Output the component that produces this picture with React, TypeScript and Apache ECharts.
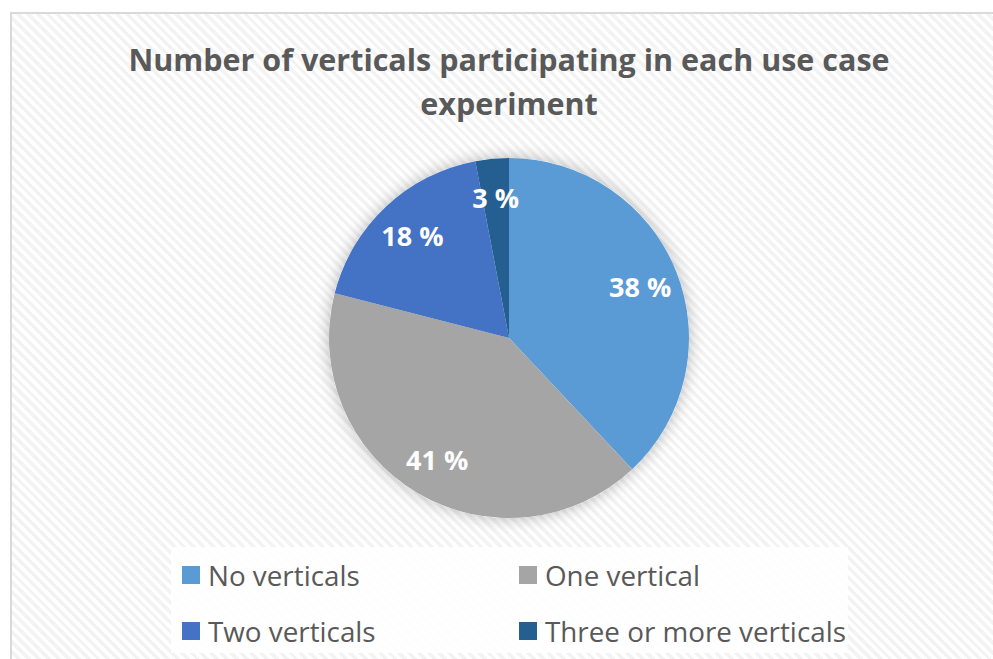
import React, { useEffect, useRef } from "react";
import * as echarts from "echarts";

const TITLE = "Number of verticals participating in each use case\nexperiment";
const CATEGORIES = ["No verticals", "One vertical", "Two verticals", "Three or more verticals"];
const VALUES = [38, 41, 18, 3];
const COLORS = ["#5B9BD5", "#A5A5A5", "#4472C4", "#255E91"];
const LEGEND_LEFT_COL = ["No verticals", "Two verticals"];
const LEGEND_RIGHT_COL = ["One vertical", "Three or more verticals"];

export default function App() {
  const ref = useRef<HTMLDivElement>(null);
  useEffect(() => {
    if (!ref.current) return;
    const chart = echarts.init(ref.current, undefined, { renderer: "svg" });
    const data = CATEGORIES.map((name, i) => ({
      name,
      value: VALUES[i],
      itemStyle: { color: COLORS[i] },
    }));
    const legendText = {
      color: "#595959",
      fontSize: 27.8,
      fontFamily: "Open Sans",
      lineHeight: 27,
      padding: [0, 0, 0, 3],
    };
    chart.setOption({
      animation: false,
      backgroundColor: "transparent",
      title: {
        text: TITLE,
        left: 509,
        top: 37,
        padding: 0,
        textAlign: "center",
        textStyle: {
          color: "#595959",
          fontSize: 30.5,
          fontWeight: "bold",
          fontFamily: "Open Sans",
          lineHeight: 44,
        },
      },
      graphic: [
        {
          type: "rect",
          z: -10,
          shape: { x: 171, y: 547, width: 677, height: 106 },
          style: { fill: "rgba(255,255,255,0.85)" },
          silent: true,
        },
      ],
      legend: [
        {
          data: LEGEND_LEFT_COL,
          orient: "vertical",
          left: 182,
          top: 561,
          padding: 0,
          itemWidth: 18,
          itemHeight: 18,
          itemGap: 28,
          icon: "rect",
          textStyle: legendText,
          selectedMode: false,
        },
        {
          data: LEGEND_RIGHT_COL,
          orient: "vertical",
          left: 519,
          top: 561,
          padding: 0,
          itemWidth: 18,
          itemHeight: 18,
          itemGap: 28,
          icon: "rect",
          textStyle: legendText,
          selectedMode: false,
        },
      ],
      series: [
        {
          type: "pie",
          name: "shadow",
          center: [509, 338],
          radius: [0, 180],
          silent: true,
          z: 1,
          label: { show: false },
          labelLine: { show: false },
          data: [{ value: 1, name: "__shadow", itemStyle: { color: "#ffffff" } }],
          itemStyle: { shadowBlur: 16, shadowColor: "rgba(0,0,0,0.28)" },
          legendHoverLink: false,
        },
        {
          type: "pie",
          name: "verticals",
          center: [509, 338],
          radius: [0, 180],
          startAngle: 90,
          clockwise: true,
          z: 2,
          label: { show: false },
          labelLine: { show: false },
          data,
        },
        {
          type: "pie",
          name: "labels",
          center: [509, 338],
          radius: [0, 276],
          startAngle: 90,
          clockwise: true,
          silent: true,
          z: 3,
          itemStyle: { color: "rgba(0,0,0,0)" },
          label: {
            show: true,
            position: "inside",
            formatter: "{c} %",
            color: "#ffffff",
            fontSize: 27,
            fontWeight: "bold",
            fontFamily: "Open Sans",
          },
          labelLine: { show: false },
          data: CATEGORIES.map((name, i) => ({ name, value: VALUES[i] })),
        },
      ],
    });
    return () => chart.dispose();
  }, []);

  return (
    <div
      style={{
        position: "fixed",
        left: 0,
        top: 0,
        width: 993,
        height: 659,
        background: "#ffffff",
        overflow: "hidden",
      }}
    >
      <div
        style={{
          position: "absolute",
          left: 10,
          top: 12,
          right: -10,
          bottom: -10,
          borderLeft: "2.5px solid #d9d9d9",
          borderTop: "2.5px solid #d9d9d9",
          background:
            "repeating-linear-gradient(45deg, #ffffff 0px, #ffffff 3.5px, #f3f3f3 3.5px, #f3f3f3 7px)",
        }}
      />
      <div ref={ref} style={{ position: "absolute", left: 0, top: 0, width: 993, height: 659 }} />
    </div>
  );
}
